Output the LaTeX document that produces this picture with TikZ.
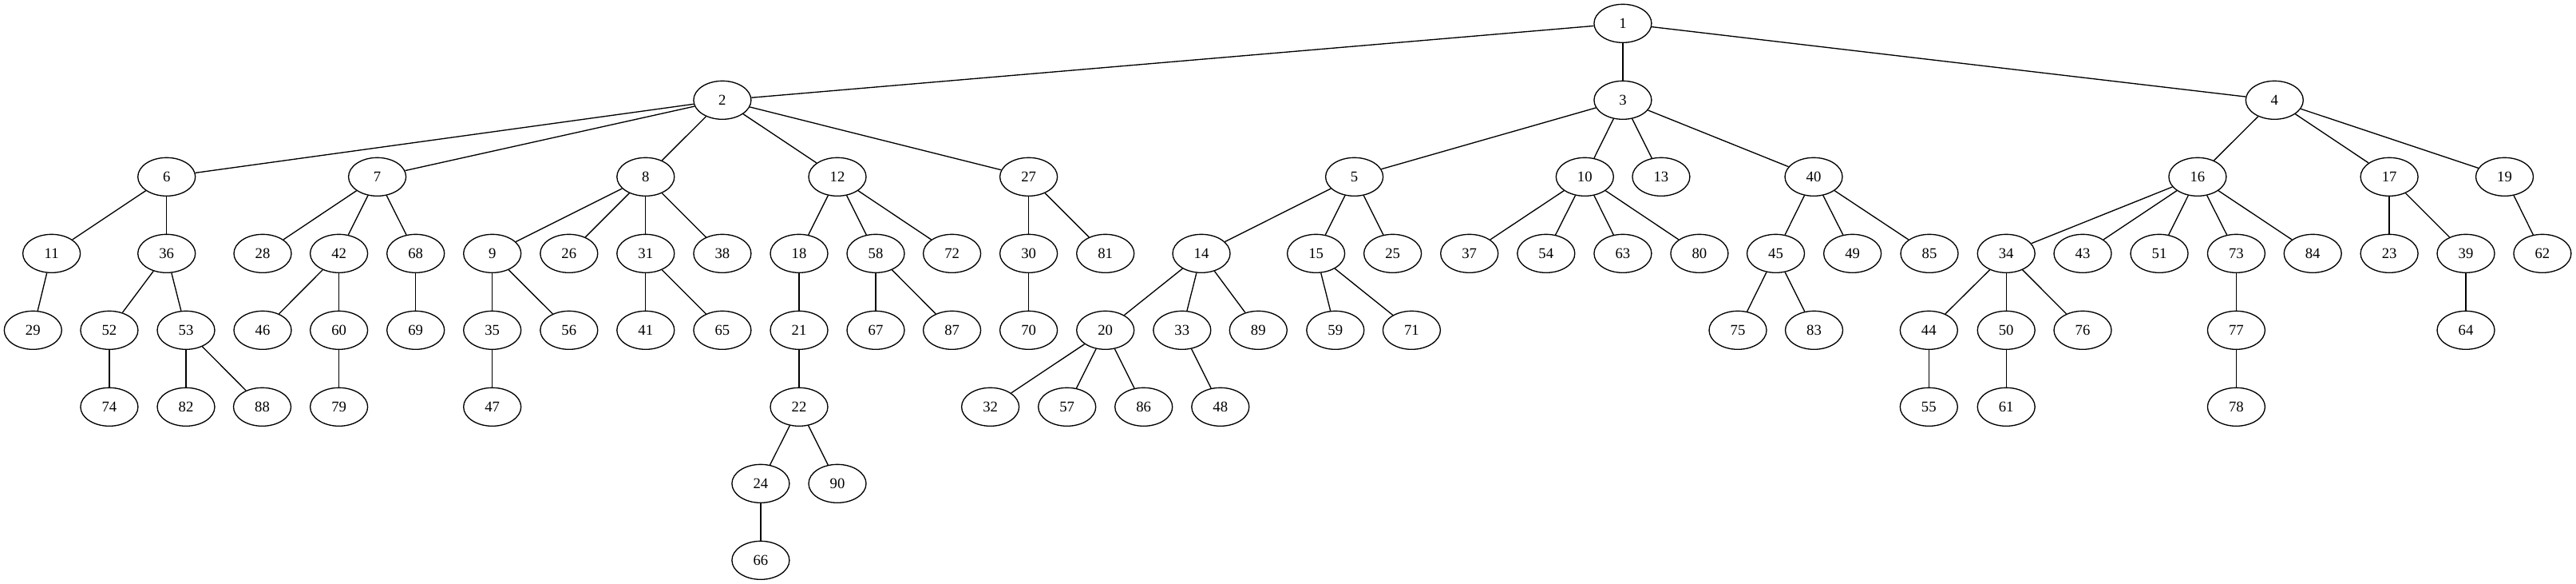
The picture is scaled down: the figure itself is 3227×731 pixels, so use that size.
\documentclass[tikz,border=0pt]{standalone}
\usepackage{fontspec}
\setmainfont{Liberation Serif}
\usetikzlibrary{shapes.geometric}
\begin{document}
\begin{tikzpicture}[x=0.75pt,y=-0.75pt,
  vtx/.style={draw, ellipse, line width=1pt, minimum width=54pt, minimum height=36pt, inner sep=0pt, font=\fontsize{14}{16}\selectfont},
  edge/.style={line width=1pt}]
\path[fill=white,use as bounding box] (0,0) rectangle (3227,731);
\foreach \n/\x/\r in {
 1/2032.9/0,
 2/904.9/1, 3/2032.9/1, 4/2849.3/1,
 6/208.7/2, 7/472.6/2, 8/808.8/2, 12/1049/2, 27/1288.6/2, 5/1696.6/2, 10/1985.3/2, 13/2080.9/2, 40/2272/2, 16/2752.9/2, 17/2993.1/2, 19/3137.5/2,
 11/64.6/3, 36/208.7/3, 28/329/3, 42/424.6/3, 68/520.7/3, 9/616.7/3, 26/712.8/3, 31/808.8/3, 38/904.9/3, 18/1001/3, 58/1097/3, 72/1192.6/3, 30/1288.6/3, 81/1384.7/3, 14/1505/3, 15/1648.6/3, 25/1744.6/3, 37/1840.7/3, 54/1936.8/3, 63/2032.9/3, 80/2128.9/3, 45/2224.5/3, 49/2320.6/3, 85/2417/3, 34/2513.2/3, 43/2609/3, 51/2705/3, 73/2801.4/3, 84/2897.2/3, 23/2993.1/3, 39/3089/3, 62/3184.9/3,
 29/41.3/4, 52/136.9/4, 53/233/4, 46/329/4, 60/424.6/4, 69/520.7/4, 35/616.7/4, 56/712.8/4, 41/808.8/4, 65/904.9/4, 21/1001/4, 67/1097/4, 87/1192.6/4, 70/1288.6/4, 20/1384.7/4, 33/1480.8/4, 89/1576.3/4, 59/1672.8/4, 71/1768.4/4, 75/2177/4, 83/2272.5/4, 44/2416.3/4, 50/2513.2/4, 76/2609/4, 77/2801.4/4, 64/3089/4,
 74/136.9/5, 82/233/5, 88/328.5/5, 79/424.6/5, 47/616.7/5, 22/1001/5, 32/1240.6/5, 57/1336.7/5, 86/1432.7/5, 48/1528.8/5, 55/2416.3/5, 61/2513.2/5, 78/2801.4/5,
 24/952.9/6, 90/1049/6,
 66/952.9/7}
  \node[vtx] (n\n) at (\x, {29.33+96*\r}) {\n};
\foreach \a/\b in {
 1/2, 1/3, 1/4,
 2/6, 2/7, 2/8, 2/12, 2/27,
 3/5, 3/10, 3/13, 3/40,
 4/16, 4/17, 4/19,
 6/11, 6/36,
 7/28, 7/42, 7/68,
 8/9, 8/26, 8/31, 8/38,
 12/18, 12/58, 12/72,
 27/30, 27/81,
 5/14, 5/15, 5/25,
 10/37, 10/54, 10/63, 10/80,
 40/45, 40/49, 40/85,
 16/34, 16/43, 16/51, 16/73, 16/84,
 17/23, 17/39,
 19/62,
 11/29,
 36/52, 36/53,
 42/46, 42/60,
 68/69,
 9/35, 9/56,
 31/41, 31/65,
 18/21,
 58/67, 58/87,
 30/70,
 14/20, 14/33, 14/89,
 15/59, 15/71,
 45/75, 45/83,
 34/44, 34/50, 34/76,
 73/77,
 39/64,
 52/74,
 53/82, 53/88,
 60/79,
 35/47,
 21/22,
 20/32, 20/57, 20/86,
 33/48,
 44/55,
 50/61,
 77/78,
 22/24, 22/90,
 24/66}
  \draw[edge] (n\a) -- (n\b);
\end{tikzpicture}
\end{document}
